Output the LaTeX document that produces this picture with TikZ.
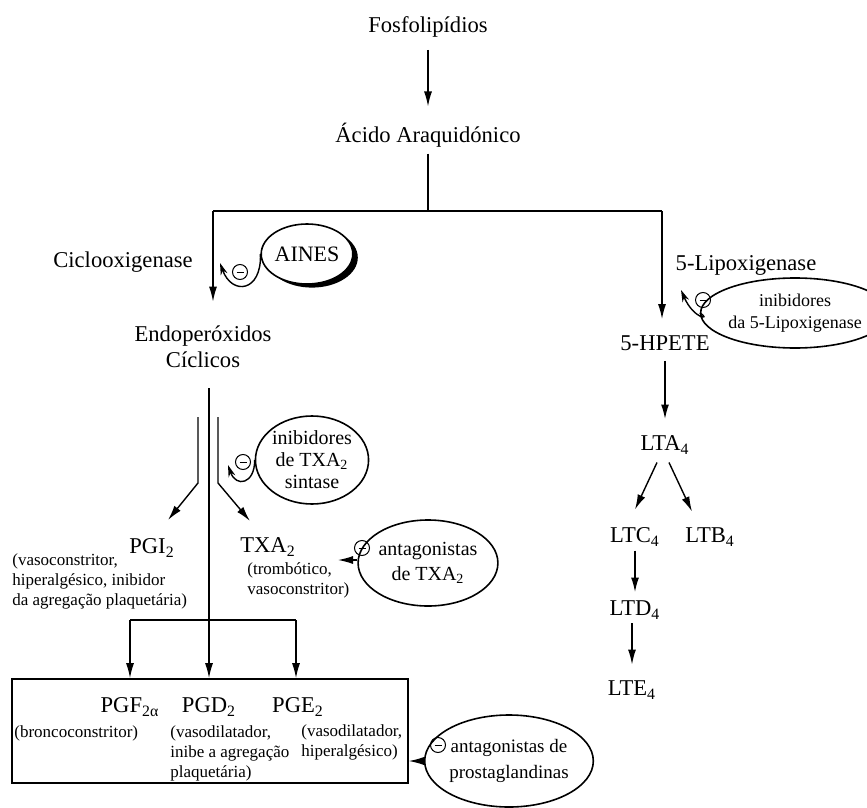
\documentclass[tikz,border=0pt]{standalone}
\usepackage{fontspec}
\setmainfont{Liberation Serif}
\usetikzlibrary{arrows.meta, shapes.geometric, shadows}

\tikzset{
  lbl/.style={font=\fontsize{11.3}{13}\selectfont, inner sep=1pt, align=center},
  small/.style={font=\fontsize{8.5}{10}\selectfont, inner sep=1pt, align=left},
  oval/.style={draw, ellipse, line width=0.8pt, inner sep=0pt, align=center},
  arr/.style={line width=0.7pt, -{Latex[length=7.5pt,width=4pt]}},
  inh/.style={line width=0.7pt, -{Stealth[length=6pt,width=3.5pt]}},
  minus/.style={circle, draw, line width=0.5pt, inner sep=0pt, minimum size=7.5pt}
}

\begin{document}
\begin{tikzpicture}[x=0.5pt, y=-0.5pt]
\useasboundingbox (0,0) rectangle (867,808);

% Top of the pathway
\node[lbl] (fosfo) at (428,27) {Fosfolipídios};
\node[lbl] (acido) at (428,135) {Ácido Araquidónico};
\draw[arr, shorten <=5pt, shorten >=7pt] (fosfo) -- (acido);

% Split into the two branches
\coordinate (split) at (428,211);
\coordinate (lc) at (213,211);
\coordinate (rc) at (662,211);
\draw[line width=0.7pt, shorten <=2pt] (acido) -- (split);
\draw[line width=0.7pt] (lc) -- (rc);

% Cyclooxygenase branch
\node[lbl] (ciclo) at (123,262) {Ciclooxigenase};
\node[lbl] (endo) at (203,347) {Endoperóxidos\\Cíclicos};
\draw[arr, shorten >=11pt] (lc) -- (lc |- endo.north);

\node[oval, minimum width=39.5pt, minimum height=30pt, font=\fontsize{11}{12}\selectfont,
  fill=white, drop shadow={shadow xshift=2.5pt, shadow yshift=-1.8pt, fill=black, opacity=1}]
  (aines) at (307,254) {AINES};
\node[minus] (m1) at (240,272) {\rule{3.5pt}{0.5pt}};
\draw[inh] (aines.west) .. controls (262,292) and (232,296) .. (220,263);

% Lipoxygenase branch
\node[lbl] (lipo) at (746,265) {5-Lipoxigenase};
\node[lbl] (hpete) at (665,343) {5-HPETE};
\draw[arr, shorten >=7pt] (rc) -- (rc |- hpete.north);
\node[oval, minimum width=71pt, minimum height=35pt, font=\fontsize{9}{11}\selectfont]
  (lip) at (795,313) {inibidores\\da 5-Lipoxigenase};
\node[minus] (m5) at (703,300) {\rule{3.5pt}{0.5pt}};
\draw[inh] (lip.west) .. controls (712,320) and (694,320) .. (681,290);

\node[lbl] (lta) at (665,445) {LTA\textsubscript{4}};
\node[lbl] (ltc) at (635,537) {LTC\textsubscript{4}};
\node[lbl] (ltb) at (710,537) {LTB\textsubscript{4}};
\node[lbl] (ltd) at (635,610) {LTD\textsubscript{4}};
\node[lbl] (lte) at (632,690) {LTE\textsubscript{4}};
\draw[arr, line width=1pt, shorten <=4pt, shorten >=7pt] (hpete) -- (lta);
\draw[arr] ([xshift=-4pt,yshift=-3pt]lta.south) -- ([yshift=8pt]ltc.north);
\draw[arr] ([xshift=2pt,yshift=-3pt]lta.south) -- ([xshift=-9pt,yshift=7pt]ltb.north);
\draw[arr, line width=1pt, shorten <=1pt, shorten >=3pt] (ltc) -- (ltd);
\draw[arr, shorten <=1pt, shorten >=7pt] ([xshift=-1.5pt]ltd.south) -- ([xshift=-1.5pt]ltd.south |- lte.north);

% Split of the endoperoxides
\coordinate (stem) at (209,388);
\coordinate (lb) at (198,417);
\coordinate (rb) at (218,417);
\coordinate (pgiIn) at (168,520);
\coordinate (txaIn) at (250,521);
\draw[arr] (lb) -- ++(0,66) -- (pgiIn);
\draw[arr] (rb) -- ++(0,66) -- (txaIn);

\node[oval, minimum width=54pt, minimum height=44pt, font=\fontsize{10}{11}\selectfont]
  (txs) at (312,460) {inibidores\\de TXA\textsubscript{2}\\sintase};
\node[minus] (m2) at (243,462) {\rule{3.5pt}{0.5pt}};
\draw[inh] (txs.west) .. controls (255,484) and (236,488) .. (228,465);

\node[lbl] (pgi) at (152,548) {PGI\textsubscript{2}};
\node[small, anchor=west] (pgiTxt) at (10,581)
  {(vasoconstritor,\\hiperalgésico, inibidor\\da agregação plaquetária)};
\node[lbl] (txa) at (268,547) {TXA\textsubscript{2}};
\node[small, anchor=west] (txaTxt) at (245,580) {(trombótico,\\vasoconstritor)};

\node[oval, minimum width=58pt, minimum height=43pt, font=\fontsize{10}{12.5}\selectfont]
  (atx) at (428,563) {antagonistas\\de TXA\textsubscript{2}};
\node[minus] (m3) at (362,548) {\rule{3.5pt}{0.5pt}};
\coordinate (txaArr) at (338,560);
\draw[arr, line width=0.6pt] (atx.west |- txaArr) -- (txaArr);

% Prostaglandins
\node[draw, line width=0.8pt, minimum width=198pt, minimum height=52pt, inner sep=0pt]
  (box) at (210,731) {};
\coordinate (bl) at (130,620);
\coordinate (br) at (296,620);
\draw[line width=0.7pt] (bl) -- (br);
\draw[arr] (stem) -- (stem |- box.north);
\draw[arr] (bl) -- (bl |- box.north);
\draw[arr] (br) -- (br |- box.north);

\node[lbl] (pgf) at (130,707) {PGF\textsubscript{2α}};
\node[lbl] (pgd) at (209,707) {PGD\textsubscript{2}};
\node[lbl] (pge) at (298,707) {PGE\textsubscript{2}};
\node[small, anchor=west] (pgfTxt) at (12,733) {(broncoconstritor)};
\node[small, anchor=west] (pgdTxt) at (168,753) {(vasodilatador,\\inibe a agregação\\plaquetária)};
\node[small, anchor=west] (pgeTxt) at (299,742) {(vasodilatador,\\hiperalgésico)};

\node[oval, minimum width=66pt, minimum height=46pt, font=\fontsize{9.5}{13}\selectfont]
  (apg) at (509,761) {antagonistas de\\prostaglandinas};
\node[minus] (m4) at (438,745) {\rule{3.5pt}{0.5pt}};
\draw[arr, line width=0.6pt] (apg.west) -- (apg.west -| box.east);
\end{tikzpicture}
\end{document}
